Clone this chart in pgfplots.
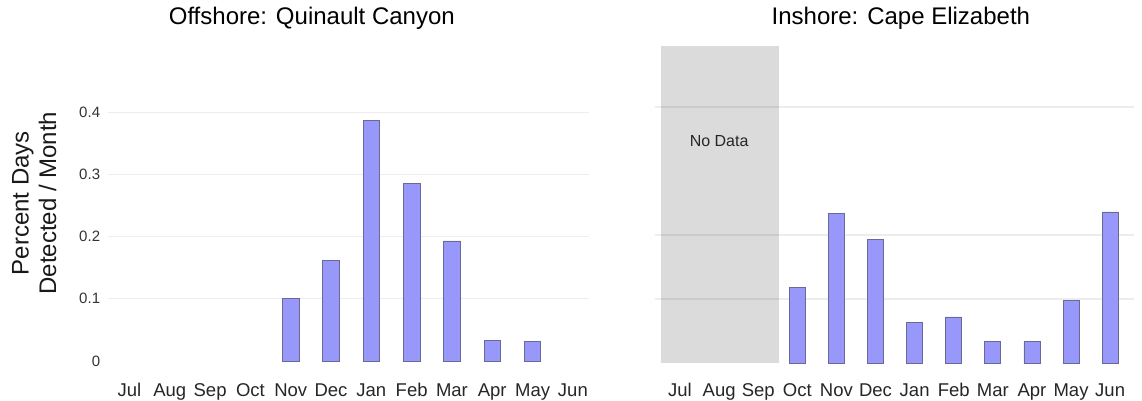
\documentclass[border=0pt]{standalone}
\usepackage{fontspec}
\setmainfont{Liberation Sans}
\usepackage{pgfplots}
\pgfplotsset{compat=1.18}
\definecolor{barfill}{RGB}{152,152,250}
\definecolor{barline}{RGB}{105,105,150}
\definecolor{gridc}{RGB}{237,237,237}
\pgfplotsset{
  panel/.style={
    scale only axis,
    axis line style={draw=none},
    tick style={draw=none},
    major tick length=0pt,
    ymajorgrids,
    grid style={gridc, line width=1.4bp},
    xtick={0,1,2,3,4,5,6,7,8,9,10,11},
    xticklabels={Jul,Aug,Sep,Oct,Nov,Dec,Jan,Feb,Mar,Apr,May,Jun},
    xticklabel style={font=\fontsize{18.5bp}{20bp}\selectfont, text=black!85, anchor=base, inner sep=0pt},
    yticklabel style={font=\fontsize{15bp}{17bp}\selectfont, text=black!80, anchor=east, inner sep=0pt, xshift=-8bp},
    title style={font=\fontsize{24bp}{27bp}\selectfont, anchor=base, inner sep=0pt},
  },
  bars/.style={ybar, bar width=0.41, fill=barfill, draw=barline, line width=0.8bp},
}
\begin{document}
\begin{tikzpicture}
\path[use as bounding box] (0,0) rectangle (1142bp,401bp);
% Left panel
\begin{axis}[panel,
  at={(108.3bp,27.6bp)}, anchor=south west,
  width=481.1bp, height=340.7bp,
  xmin=-0.526, xmax=11.41,
  ymin=-0.02, ymax=0.528,
  ytick={0.1,0.2,0.3,0.4},
  yticklabels={0.1,0.2,0.3,0.4},
  extra y ticks={0},
  extra y tick labels={0},
  extra y tick style={grid=none},
  xticklabel style={yshift=-22.6bp},
  title={Offshore: Quinault Canyon},
  title style={at={(rel axis cs:0.423,1.0076)}},
  ylabel={Percent Days\\Detected / Month},
  ylabel style={font=\fontsize{24bp}{27.6bp}\selectfont, align=center, at={(rel axis cs:-0.154,0.5)}, anchor=center, text=black!90},
]
\addplot[bars] coordinates {
  (4,0.100) (5,0.161) (6,0.387) (7,0.285) (8,0.193) (9,0.033) (10,0.031)
};
\end{axis}
% Right panel
\begin{axis}[panel,
  at={(655.3bp,26bp)}, anchor=south west,
  width=478.7bp, height=335bp,
  xmin=-0.632, xmax=11.61,
  ymin=-0.01875, ymax=0.5047,
  ytick={0.1,0.2,0.4},
  yticklabels={},
  xticklabel style={yshift=-21bp},
  title={Inshore: Cape Elizabeth},
  title style={at={(rel axis cs:0.513,1.0299)}},
]
\addplot[draw=none, fill=black, fill opacity=0.14] coordinates {
  (-0.494,0) (2.53,0) (2.53,0.495) (-0.494,0.495)
} -- cycle;
\node[font=\fontsize{16bp}{18bp}\selectfont, text=black!85] at (axis cs:1.0,0.347) {No Data};
\addplot[bars] coordinates {
  (3,0.118) (4,0.234) (5,0.193) (6,0.064) (7,0.072) (8,0.033) (9,0.033) (10,0.098) (11,0.236)
};
\end{axis}
\end{tikzpicture}
\end{document}
